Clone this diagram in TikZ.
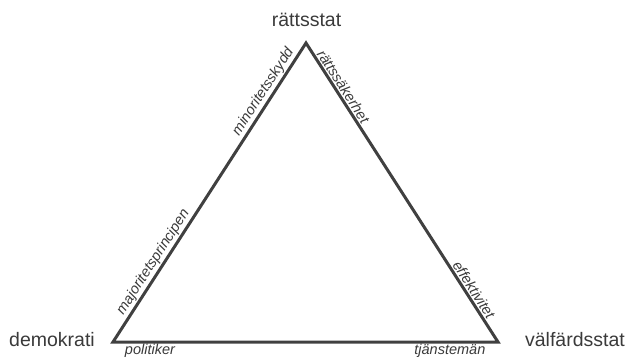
\documentclass[tikz,border=0pt]{standalone}
\usepackage{fontspec}
\setmainfont{Liberation Sans}
\usetikzlibrary{positioning}
\definecolor{linegray}{HTML}{404040}
\definecolor{textgray}{HTML}{3A3A3A}
\begin{document}
\begin{tikzpicture}[
  x=1pt, y=-1pt,
  cornerlabel/.style={font=\fontsize{19.5}{21}\selectfont, text=textgray},
  sidelabel/.style={font=\fontsize{14.5}{16}\selectfont\itshape, text=textgray, sloped, inner sep=2.5pt},
  baselabel/.style={font=\fontsize{14.5}{16}\selectfont\itshape, text=textgray, inner sep=2pt},
  edge/.style={draw=linegray, line width=3pt}
]
  \useasboundingbox (0,0) rectangle (632,362);

  \coordinate (top)   at (306,43);
  \coordinate (left)  at (113,342);
  \coordinate (right) at (498,342);

  \node[cornerlabel] (rs)  at (306.5,20) {rättsstat};
  \node[cornerlabel] (dem) at (52,340)   {demokrati};
  \node[cornerlabel] (vs)  at (575,340)  {välfärdsstat};

  \draw[edge] (left) -- (top) -- (right) -- cycle;

  \path (left) -- node[sidelabel, above, pos=0.25] (maj) {majoritetsprincipen}
                  node[sidelabel, above, pos=0.82] (min) {minoritetsskydd} (top);
  \path (top) -- node[sidelabel, above, pos=0.16] (sak) {rättssäkerhet}
                 node[sidelabel, above, pos=0.84] (eff) {effektivitet} (right);
  \path (left) -- node[baselabel, below, pos=0.096] (pol) {politiker}
                  node[baselabel, below, pos=0.875] (tj) {tjänstemän} (right);
\end{tikzpicture}
\end{document}
